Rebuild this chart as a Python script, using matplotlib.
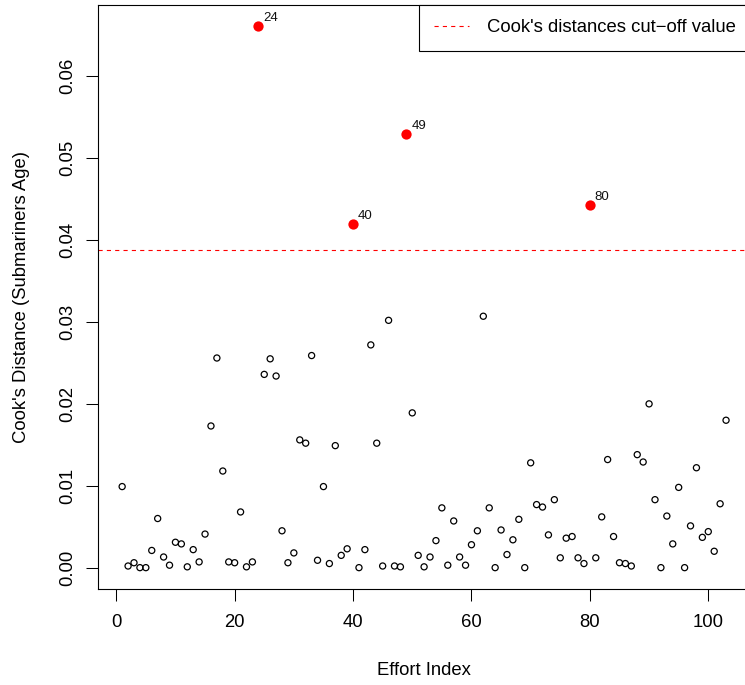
import matplotlib
matplotlib.use("Agg")
import matplotlib.pyplot as plt
import numpy as np

plt.rcParams['font.family'] = ['Liberation Sans', 'DejaVu Sans']
plt.rcParams['lines.scale_dashes'] = False

# Cook's distance for each observation (Effort Index 1..103)
effort_index = list(range(1, 104))
cooks_distance = [
    0.0099, 0.0002, 0.0006, 0.0000, 0.0000, 0.0021, 0.0060, 0.0013, 0.0003, 0.0031,
    0.0029, 0.0001, 0.0022, 0.0007, 0.0041, 0.0173, 0.0256, 0.0118, 0.0007, 0.0006,
    0.0068, 0.0001, 0.0007, 0.0661, 0.0236, 0.0255, 0.0234, 0.0045, 0.0006, 0.0018,
    0.0156, 0.0152, 0.0259, 0.0009, 0.0099, 0.0005, 0.0149, 0.0015, 0.0023, 0.0420,
    0.0000, 0.0022, 0.0272, 0.0152, 0.0002, 0.0302, 0.0002, 0.0001, 0.0530, 0.0189,
    0.0015, 0.0001, 0.0013, 0.0033, 0.0073, 0.0003, 0.0057, 0.0013, 0.0003, 0.0028,
    0.0045, 0.0307, 0.0073, 0.0000, 0.0046, 0.0016, 0.0034, 0.0059, 0.0000, 0.0128,
    0.0077, 0.0074, 0.0040, 0.0083, 0.0012, 0.0036, 0.0038, 0.0012, 0.0005, 0.0443,
    0.0012, 0.0062, 0.0132, 0.0038, 0.0006, 0.0005, 0.0002, 0.0138, 0.0129, 0.0200,
    0.0083, 0.0000, 0.0063, 0.0029, 0.0098, 0.0000, 0.0051, 0.0122, 0.0037, 0.0044,
    0.0020, 0.0078, 0.0180,
]
cutoff = 4 / len(cooks_distance)

x_ticks = [0, 20, 40, 60, 80, 100]
y_ticks = [0.00, 0.01, 0.02, 0.03, 0.04, 0.05, 0.06]
y_tick_labels = ["0.00", "0.01", "0.02", "0.03", "0.04", "0.05", "0.06"]

x = np.array(effort_index)
y = np.array(cooks_distance)
influential = y > cutoff

W, H, DPI = 745, 685, 100
fig = plt.figure(figsize=(W / DPI, H / DPI), dpi=DPI)
left, right, top, bottom = 98 / W, 750.2 / W, 1 - 4.7 / H, 1 - 589.3 / H
ax = fig.add_axes([left, bottom, right - left, top - bottom])

fs = 13.3
ax.scatter(x[~influential], y[~influential], s=4.4 ** 2, facecolors='none',
           edgecolors='black', linewidths=0.9, zorder=3)
ax.scatter(x[influential], y[influential], s=7.4 ** 2, color='#ff0000',
           linewidths=0, zorder=4)
for xi, yi in zip(x[influential], y[influential]):
    ax.annotate(str(xi), (xi, yi), xytext=(3.6, 5.8), textcoords='offset points',
                ha='left', va='center', fontsize=fs * 0.72, color='#111111')

ax.axhline(cutoff, color='#ff0000', lw=0.8, linestyle=(0, (3, 3)), zorder=2,
           label="Cook's distances cut\u2212off value")

# R-style 4% range expansion
xpad = 0.04 * (x.max() - x.min())
ypad = 0.04 * (y.max() - y.min())
ax.set_xlim(x.min() - xpad, x.max() + xpad)
ax.set_ylim(y.min() - ypad, y.max() + ypad)

ax.set_xticks(x_ticks)
ax.set_xticklabels([str(t) for t in x_ticks])
ax.set_yticks(y_ticks)
ax.set_yticklabels(y_tick_labels, rotation=90, va='center')
ax.tick_params(axis='both', direction='out', length=8.4, width=0.75,
               labelsize=fs, colors='black')
ax.tick_params(axis='y', pad=7.5)
ax.tick_params(axis='x', pad=9.5)
for sp in ax.spines.values():
    sp.set_linewidth(0.8)
    sp.set_color('black')

ax.set_xlabel("Effort Index", fontsize=fs, labelpad=22)
ax.set_ylabel("Cook's Distance (Submariners Age)", fontsize=fs, labelpad=21)

leg = ax.legend(loc='upper right', fontsize=fs, frameon=True, fancybox=False,
                borderaxespad=0, borderpad=0.8, handlelength=1.9,
                handletextpad=0.95)
leg.get_frame().set_edgecolor('black')
leg.get_frame().set_linewidth(0.8)
leg.get_frame().set_alpha(1)

fig.savefig("out.png", dpi=DPI)
